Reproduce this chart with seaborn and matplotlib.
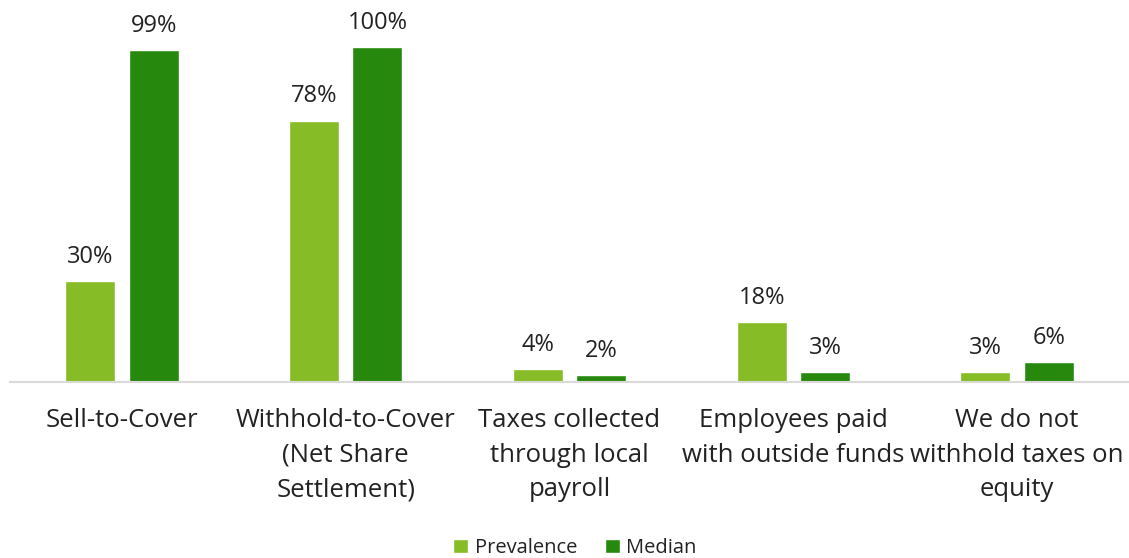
import matplotlib
matplotlib.use("Agg")
import matplotlib.pyplot as plt
import seaborn as sns
import pandas as pd

categories = [
    "Sell-to-Cover",
    "Withhold-to-Cover\n(Net Share\nSettlement)",
    "Taxes collected\nthrough local\npayroll",
    "Employees paid\nwith outside funds",
    "We do not\nwithhold taxes on\nequity",
]
prevalence = [30, 78, 4, 18, 3]
median = [99, 100, 2, 3, 6]
series_names = ["Prevalence", "Median"]
colors = ["#86BC25", "#26890D"]

df = pd.DataFrame({
    "category": categories * 2,
    "series": [series_names[0]] * len(categories) + [series_names[1]] * len(categories),
    "value": prevalence + median,
})

sns.set_theme(style="white")
plt.rcParams["font.family"] = ["Open Sans", "DejaVu Sans"]

W, H = 1129, 558
fig = plt.figure(figsize=(W / 100, H / 100), dpi=100)
ax_left, ax_bottom, ax_top = 10, 382, 30
ax = fig.add_axes([ax_left / W, (H - ax_bottom) / H, 1 - ax_left / W, (ax_bottom - ax_top) / H])

sns.barplot(data=df, x="category", y="value", hue="series", order=categories,
            hue_order=series_names, palette=colors, width=0.567, gap=0.21,
            ax=ax, saturation=1, legend=True)

ax.set_ylim(0, 105)
ax.set_xlim(-0.5, len(categories) - 0.5)
ax.set_xlabel("")
ax.set_ylabel("")
ax.set_yticks([])
for s in ["top", "right", "left"]:
    ax.spines[s].set_visible(False)
ax.spines["bottom"].set_color("#D9D9D9")
ax.spines["bottom"].set_linewidth(1.5)

ax.tick_params(axis="x", length=0, pad=19, labelsize=18.5, labelcolor="#222222")
for lbl in ax.get_xticklabels():
    lbl.set_linespacing(1.5)
    lbl.set_verticalalignment("top")

for container in ax.containers:
    for bar in container:
        h = bar.get_height()
        ax.annotate(f"{h:.0f}%", (bar.get_x() + bar.get_width() / 2, h),
                    xytext=(0, 13), textcoords="offset points",
                    ha="center", va="baseline", fontsize=17, color="#222222")

handles = ax.get_legend().legend_handles
ax.get_legend().remove()
fig.legend(handles=handles, labels=series_names,
           loc="center", bbox_to_anchor=(575 / W, 10 / H),
           ncol=2, frameon=False, fontsize=14.5, handlelength=0.75, handleheight=0.75,
           handletextpad=0.3, columnspacing=1.4, labelcolor="#222222",
           borderpad=0, borderaxespad=0)

fig.savefig("out.png", dpi=100)
